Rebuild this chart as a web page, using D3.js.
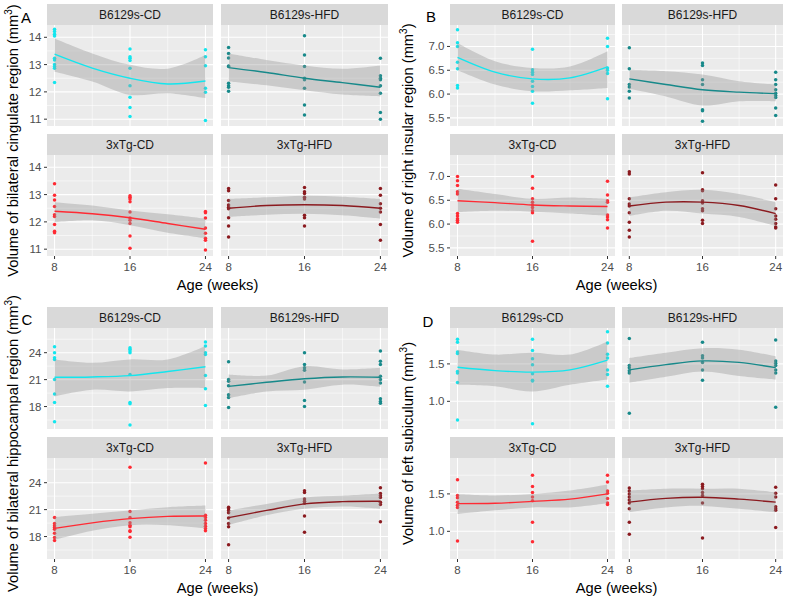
<!DOCTYPE html>
<html><head><meta charset="utf-8">
<script src="https://cdn.jsdelivr.net/npm/d3@7"></script>
<style>body{margin:0;background:#fff}svg{display:block}text{font-family:"Liberation Sans",Arial,sans-serif}</style>
</head><body>
<svg id="c" width="790" height="598"></svg>
<script>
// ---------- DATA ----------
const groups = ["B6129s-CD","B6129s-HFD","3xTg-CD","3xTg-HFD"];
const ages = [8,16,24];
const smoothAges = [8,12,16,20,24];
const xTicks = [8,16,24];
const xMinor = [12,20];

// points per group: [age 8 values, age 16 values, age 24 values]
const cingulatePoints = [
  [[14.29,14.21,14.11,14.05,13.23,13.17,13.0,12.93,12.87,12.34],[13.57,13.29,13.23,13.15,12.87,12.22,11.8,11.43,11.1],[13.54,13.29,12.96,12.13,11.99,10.95]],
  [[13.63,13.41,13.24,12.95,12.93,12.32,12.22,12.17,12.02],[14.06,13.35,12.93,12.5,12.44,12.13,11.52,11.15],[13.23,12.59,12.5,12.44,12.22,11.95,11.24,11.0]],
  [[13.4,12.98,12.8,12.56,12.26,12.2,11.9,11.66,11.6],[12.96,12.9,12.84,12.74,12.36,12.14,12.06,11.94,11.48,11.03],[12.38,12.33,12.14,11.78,11.58,11.4,11.33,10.97]],
  [[13.22,13.14,12.78,12.62,12.54,12.48,12.15,11.85,11.45],[13.26,13.1,13.04,12.9,12.84,12.24,12.15,11.85],[13.22,12.98,12.66,12.5,12.36,11.9,11.33]]
];
const cingulateFit = [[13.38,12.87,12.5,12.29,12.40],[12.89,12.71,12.5,12.34,12.17],[12.39,12.30,12.15,11.94,11.73],[12.5,12.6,12.63,12.6,12.5]];
const cingulateLo  = [[12.74,12.38,11.89,11.95,11.77],[12.38,12.24,12.06,11.9,11.83],[11.99,12.06,11.88,11.6,11.4],[12.18,12.26,12.3,12.24,12.12]];
const cingulateHi  = [[13.96,13.41,12.99,12.85,13.35],[13.41,13.17,12.97,12.85,12.97],[12.72,12.6,12.42,12.28,12.12],[12.84,12.9,12.96,12.92,12.84]];
const cingulateTicks = [11,12,13,14];

const insularPoints = [
  [[7.35,7.08,7.0,6.67,6.53,6.18,6.13],[6.94,6.51,6.46,6.41,6.27,6.16,6.06,5.81],[7.17,7.0,6.55,6.5,6.43,5.9]],
  [[6.97,6.53,6.2,6.15,6.06,5.92],[6.65,6.6,6.3,6.2,5.67,5.65,5.43],[6.46,6.3,6.2,6.09,6.02,5.97,5.93,5.71,5.55]],
  [[7.0,6.91,6.81,6.68,6.63,6.22,6.17,6.11,6.08,6.04],[7.0,6.75,6.53,6.46,6.4,6.35,6.28,6.24,5.64],[6.9,6.61,6.49,6.46,6.19,6.15,6.09,5.92]],
  [[7.1,7.05,6.53,6.42,6.38,6.24,6.04,5.87,5.73],[7.08,6.72,6.7,6.49,6.44,6.32,6.28,6.08,6.01],[6.82,6.53,6.32,6.17,6.1,6.01,5.94,5.92]]
];
const insularFit = [[6.77,6.46,6.32,6.34,6.57],[6.32,6.2,6.09,6.04,6.01],[6.49,6.45,6.4,6.38,6.37],[6.38,6.46,6.46,6.39,6.22]];
const insularLo  = [[6.5,6.2,6.06,6.08,6.13],[6.11,5.95,5.76,5.85,5.85],[6.25,6.28,6.26,6.22,6.17],[6.17,6.28,6.22,6.15,5.96]];
const insularHi  = [[7.07,6.69,6.55,6.58,6.9],[6.51,6.48,6.41,6.27,6.2],[6.74,6.63,6.53,6.56,6.53],[6.56,6.67,6.72,6.63,6.46]];
const insularTicks = [5.5,6.0,6.5,7.0];

const hippocampalPoints = [
  [[24.67,24.0,23.44,23.25,21.0,19.39,18.45,16.31],[24.56,24.37,24.19,24.0,21.56,18.45,18.3,15.94],[25.2,24.75,24.0,23.81,21.45,19.99,18.11]],
  [[22.99,21.0,20.81,20.33,19.31,19.01,17.89],[24.0,22.69,22.31,22.05,20.74,18.68,18.0],[24.19,23.06,22.69,21.37,21.0,20.63,18.86,18.56,18.38]],
  [[20.11,19.45,19.2,19.02,18.8,18.36,17.89,17.56],[25.71,20.8,20.11,19.53,19.27,19.09,18.65,18.55,17.93],[26.18,20.36,20.11,19.82,19.45,19.16,18.91,18.65]],
  [[21.27,21.09,20.91,20.65,20.07,19.45,19.09,17.09],[23.09,22.91,22.18,21.93,21.71,20.29,18.47],[23.45,22.8,22.55,22.36,21.82,21.56,19.64]]
];
const hippocampalFit = [[21.26,21.3,21.45,21.9,22.43],[20.25,20.7,21.1,21.3,21.26],[18.91,19.53,20.0,20.25,20.29],[20.11,20.91,21.64,21.89,21.93]];
const hippocampalLo  = [[19.13,19.88,19.69,20.06,20.06],[18.94,19.69,19.88,20.44,20.18],[17.64,18.65,19.27,19.27,18.91],[19.27,20.36,21.09,21.35,21.09]];
const hippocampalHi  = [[23.25,22.88,23.25,23.25,24.75],[21.56,21.45,22.5,22.13,22.31],[20.18,20.55,20.91,21.27,21.45],[20.91,21.64,22.36,22.55,22.8]];
const hippocampalTicks = [18,21,24];

const subiculumPoints = [
  [[1.83,1.79,1.66,1.64,1.40,1.38,1.25,0.75],[1.83,1.68,1.57,1.49,1.37,1.28,1.27,0.70],[1.93,1.78,1.63,1.58,1.42,1.36,1.2]],
  [[1.84,1.48,1.45,1.41,1.38,0.84],[1.79,1.61,1.58,1.52,1.42,1.28],[1.82,1.54,1.51,1.48,1.42,1.38,0.92]],
  [[1.69,1.48,1.45,1.39,1.35,1.32,0.87],[1.75,1.60,1.52,1.46,1.41,1.12,0.86],[1.75,1.66,1.54,1.51,1.44,1.38,1.36]],
  [[1.58,1.54,1.5,1.46,1.42,1.38,1.30,1.12,0.96],[1.63,1.60,1.57,1.52,1.48,1.38,0.91],[1.59,1.51,1.46,1.33,1.30,1.28,1.05]]
];
const subiculumFit = [[1.455,1.41,1.39,1.42,1.55],[1.42,1.49,1.54,1.52,1.45],[1.37,1.375,1.4,1.43,1.5],[1.39,1.44,1.455,1.43,1.39]];
const subiculumLo  = [[1.22,1.2,1.13,1.22,1.29],[1.25,1.33,1.4,1.34,1.29],[1.23,1.28,1.32,1.32,1.375],[1.255,1.32,1.34,1.3,1.255]];
const subiculumHi  = [[1.69,1.625,1.65,1.625,1.8],[1.58,1.65,1.71,1.69,1.6],[1.5,1.48,1.5,1.545,1.625],[1.545,1.57,1.57,1.57,1.52]];
const subiculumTicks = [1.0,1.5];

// ---------- STYLE / LAYOUT ----------
const groupColors = ["#13E6EE","#17898A","#FF2A33","#8B1A1F"];
const svg = d3.select("#c");

const quads = [
  {tag:"A", title:"Volume of bilateral cingulate region", pts:cingulatePoints, fit:cingulateFit, lo:cingulateLo, hi:cingulateHi, ticks:cingulateTicks,
   dom:[10.75,14.45], ox:0, cols:[[47,213],[221,388]], rows:[[25,126],[155,256]], fmt:d3.format("d"), tagPos:[26,23]},
  {tag:"B", title:"Volume of right insular region", pts:insularPoints, fit:insularFit, lo:insularLo, hi:insularHi, ticks:insularTicks,
   dom:[5.33,7.45], ox:395, cols:[[450,615],[622,783]], rows:[[25,126],[155,256]], fmt:d3.format(".1f"), tagPos:[431,22]},
  {tag:"C", title:"Volume of bilateral hippocampal region", pts:hippocampalPoints, fit:hippocampalFit, lo:hippocampalLo, hi:hippocampalHi, ticks:hippocampalTicks,
   dom:[15.5,26.75], ox:0, cols:[[47,213],[221,388]], rows:[[328,429],[458,559]], fmt:d3.format("d"), tagPos:[27,325]},
  {tag:"D", title:"Volume of left subiculum", pts:subiculumPoints, fit:subiculumFit, lo:subiculumLo, hi:subiculumHi, ticks:subiculumTicks,
   dom:[0.63,1.98], ox:395, cols:[[450,615],[622,783]], rows:[[328,429],[458,559]], fmt:d3.format(".1f"), tagPos:[428,327]}
];

let clipId = 0;
quads.forEach(q => {
  const g = svg.append("g");
  // minor y breaks: midpoints between major ticks, plus ends
  const step = q.ticks[1]-q.ticks[0];
  const yMinor = [];
  for (let v = q.ticks[0]-step/2; v <= q.dom[1]; v += step) if (v >= q.dom[0]) yMinor.push(v);

  groups.forEach((grp, gi) => {
    const col = q.cols[gi % 2], row = q.rows[Math.floor(gi/2)];
    const x = d3.scaleLinear().domain([7.2,24.8]).range(col);
    const y = d3.scaleLinear().domain(q.dom).range([row[1], row[0]]);
    const f = g.append("g");
    // strip
    f.append("rect").attr("x",col[0]).attr("y",row[0]-21).attr("width",col[1]-col[0]).attr("height",21).attr("fill","#D9D9D9");
    f.append("text").attr("x",(col[0]+col[1])/2).attr("y",row[0]-10.5).attr("dy","0.35em")
      .attr("text-anchor","middle").attr("font-size",12).attr("fill","#1A1A1A").text(grp);
    // panel
    f.append("rect").attr("x",col[0]).attr("y",row[0]).attr("width",col[1]-col[0]).attr("height",row[1]-row[0]).attr("fill","#EBEBEB");
    yMinor.forEach(v => f.append("line").attr("x1",col[0]).attr("x2",col[1]).attr("y1",y(v)).attr("y2",y(v)).attr("stroke","#fff").attr("stroke-width",0.55));
    xMinor.forEach(v => f.append("line").attr("y1",row[0]).attr("y2",row[1]).attr("x1",x(v)).attr("x2",x(v)).attr("stroke","#fff").attr("stroke-width",0.55));
    q.ticks.forEach(v => f.append("line").attr("x1",col[0]).attr("x2",col[1]).attr("y1",y(v)).attr("y2",y(v)).attr("stroke","#fff").attr("stroke-width",1.1));
    xTicks.forEach(v => f.append("line").attr("y1",row[0]).attr("y2",row[1]).attr("x1",x(v)).attr("x2",x(v)).attr("stroke","#fff").attr("stroke-width",1.1));

    const cid = "clip"+(clipId++);
    f.append("clipPath").attr("id",cid).append("rect").attr("x",col[0]).attr("y",row[0]).attr("width",col[1]-col[0]).attr("height",row[1]-row[0]);
    const inner = f.append("g").attr("clip-path",`url(#${cid})`);

    // points
    const pts = [];
    q.pts[gi].forEach((vals, ai) => vals.forEach(v => pts.push([ages[ai], v])));
    inner.selectAll("circle").data(pts).join("circle")
      .attr("cx",d=>x(d[0])).attr("cy",d=>y(d[1])).attr("r",1.75).attr("fill",groupColors[gi]);

    // smooth band + line
    const sm = smoothAges.map((a,i)=>({a, f:q.fit[gi][i], lo:q.lo[gi][i], hi:q.hi[gi][i]}));
    inner.append("path").datum(sm)
      .attr("d", d3.area().x(d=>x(d.a)).y0(d=>y(d.lo)).y1(d=>y(d.hi)).curve(d3.curveCatmullRom.alpha(0.5)))
      .attr("fill","#999999").attr("fill-opacity",0.4);
    inner.append("path").datum(sm)
      .attr("d", d3.line().x(d=>x(d.a)).y(d=>y(d.f)).curve(d3.curveCatmullRom.alpha(0.5)))
      .attr("fill","none").attr("stroke",groupColors[gi]).attr("stroke-width",1.4);

    // y axis (left column)
    if (gi % 2 === 0) {
      q.ticks.forEach(v => {
        f.append("line").attr("x1",col[0]-3).attr("x2",col[0]).attr("y1",y(v)).attr("y2",y(v)).attr("stroke","#333").attr("stroke-width",1);
        f.append("text").attr("x",col[0]-5.5).attr("y",y(v)).attr("dy","0.35em").attr("text-anchor","end")
          .attr("font-size",11.5).attr("fill","#4D4D4D").text(q.fmt(v));
      });
    }
    // x axis (bottom row)
    if (gi >= 2) {
      xTicks.forEach(v => {
        f.append("line").attr("x1",x(v)).attr("x2",x(v)).attr("y1",row[1]).attr("y2",row[1]+3).attr("stroke","#333").attr("stroke-width",1);
        f.append("text").attr("x",x(v)).attr("y",row[1]+15).attr("text-anchor","middle")
          .attr("font-size",11.5).attr("fill","#4D4D4D").text(v);
      });
    }
  });

  // axis titles
  const cx = (q.cols[0][0]+q.cols[1][1])/2;
  g.append("text").attr("x",cx).attr("y",q.rows[1][1]+34).attr("text-anchor","middle")
    .attr("font-size",14.7).attr("fill","#000").text("Age (weeks)");
  const cy = (q.rows[0][0]+q.rows[1][1])/2;
  const t = g.append("text").attr("transform",`translate(${q.ox+18},${cy}) rotate(-90)`).attr("text-anchor","middle")
    .attr("font-size",14.7).attr("fill","#000");
  t.append("tspan").text(q.title+" (mm");
  t.append("tspan").attr("dy",-6).attr("font-size",10).text("3");
  t.append("tspan").attr("dy",6).text(")");
  // tag
  g.append("text").attr("x",q.tagPos[0]).attr("y",q.tagPos[1]).attr("text-anchor","middle")
    .attr("font-size",15).attr("fill","#000").text(q.tag);
});
</script>
</body></html>
